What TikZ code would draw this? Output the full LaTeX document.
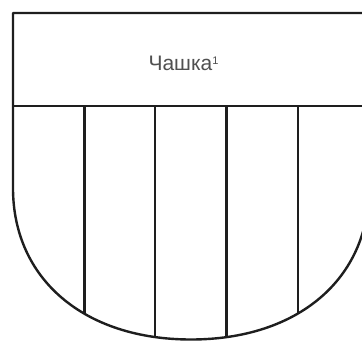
\documentclass[tikz,border=0pt]{standalone}
\usepackage{fontspec}
\setmainfont{Liberation Sans}
\definecolor{linecol}{HTML}{1E1E1E}
\definecolor{textcol}{HTML}{505050}
\begin{document}
\begin{tikzpicture}[x=1pt,y=1pt,
  outline/.style={draw=linecol,line width=2.4pt,line join=round},
  thickline/.style={draw=linecol,line width=3pt},
  thinline/.style={draw=linecol,line width=2pt},
  label/.style={text=textcol,font=\fontsize{21}{24}\selectfont,inner sep=0pt}]
\useasboundingbox (0,0) rectangle (362,341);
\clip (0,0) rectangle (362,341);
\fill[white] (0,0) rectangle (362,341);
\def\shield{(13,328) -- (13,153) .. controls (13,62) and (84,1.5) .. (191,1.5) .. controls (298,1.5) and (369,62) .. (369,153) -- (369,328) -- cycle}
\coordinate (bl) at (13,235);
\coordinate (br) at (369,235);
\begin{scope}
  \clip \shield;
  \draw[thickline] (84.2,235) -- (84.2,0);
  \draw[thinline] (155.4,235) -- (155.4,0);
  \draw[thickline] (226.6,235) -- (226.6,0);
  \draw[thinline] (297.8,235) -- (297.8,0);
\end{scope}
\draw[outline] (bl) -- (br);
\draw[outline] \shield;
\node[label] (cup) at (183.5,278) {Чашка\raisebox{6pt}{\fontsize{11}{12}\selectfont 1}};
\end{tikzpicture}
\end{document}
